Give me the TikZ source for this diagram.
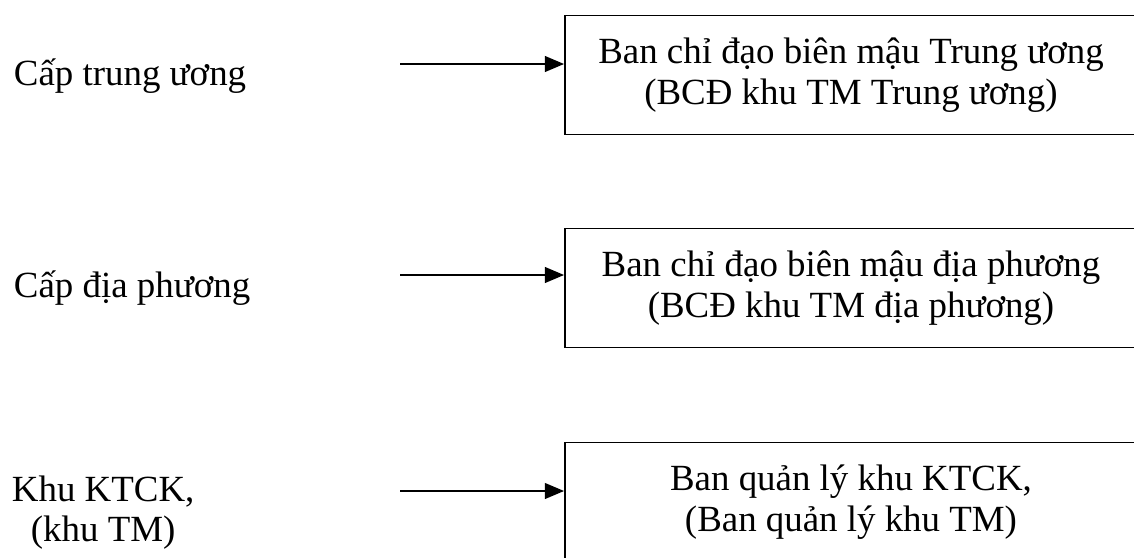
\documentclass[tikz,border=0pt]{standalone}
\usepackage{fontspec}
\setmainfont{Liberation Serif}
\usetikzlibrary{arrows.meta}

\tikzset{every picture/.style={line width=1.1pt},
  levelbox/.style={draw, minimum width=11.44cm, minimum height=2.38cm, align=center,
    font=\fontsize{21}{23}\selectfont},
  levellabel/.style={anchor=base west, inner sep=0pt, font=\fontsize{21}{23}\selectfont},
  feed/.style={-{Triangle[length=11pt,width=9pt]}}}

\begin{document}
\begin{tikzpicture}[x=0.02cm,y=-0.02cm]
        \clip (0,0) rectangle (1134,558);
        \node[levelbox] (tw) at (851,75) {Ban chỉ đạo biên mậu Trung ương\\(BCĐ khu TM Trung ương)};
        \node[levelbox] (dp) at (851,288) {Ban chỉ đạo biên mậu địa phương\\(BCĐ khu TM địa phương)};
        \node[levelbox] (kt) at (851,502) {Ban quản lý khu KTCK,\\(Ban quản lý khu TM)};
        \node[levellabel] (tw-lbl) at (13,85) {Cấp trung ương};
        \node[levellabel] (dp-lbl) at (13,297) {Cấp địa phương};
        \node[levellabel, anchor=north west, align=center] (kt-lbl) at (11,475) {Khu KTCK,\\(khu TM)};
        \coordinate (tw-in) at (400,64);
        \coordinate (dp-in) at (400,275);
        \coordinate (kt-in) at (400,491);
        \draw[feed] (tw-in) -- (tw-in -| tw.west);
        \draw[feed] (dp-in) -- (dp-in -| dp.west);
        \draw[feed] (kt-in) -- (kt-in -| kt.west);
    \end{tikzpicture}
\end{document}
